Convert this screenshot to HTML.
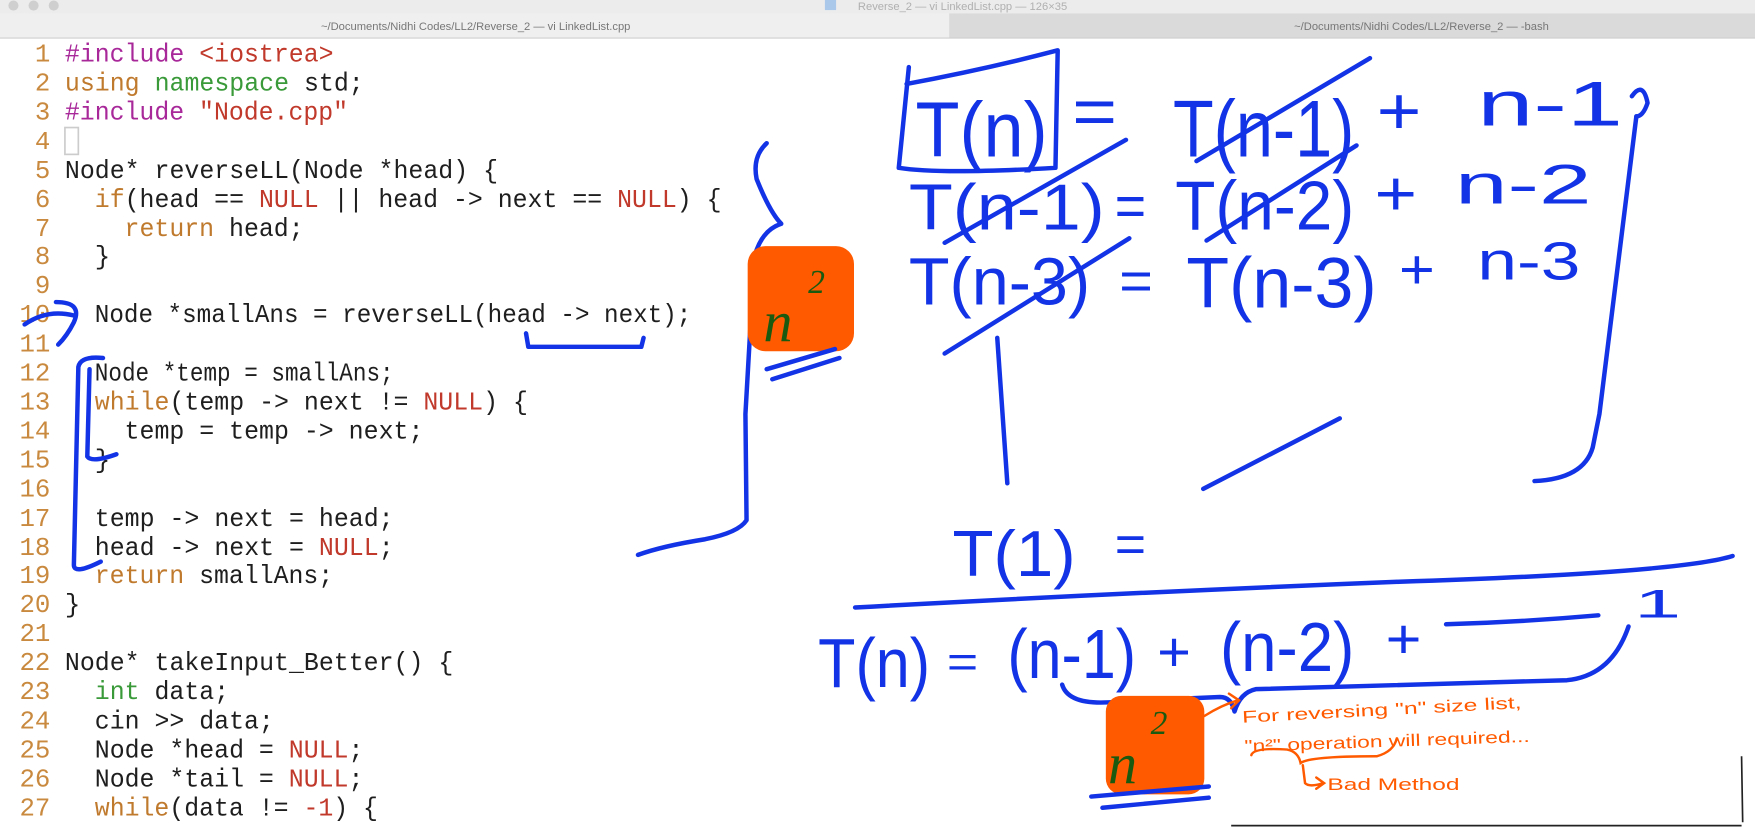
<!DOCTYPE html>
<html><head><meta charset="utf-8"><style>
html,body{margin:0;padding:0;background:#fff;overflow:hidden}
svg{display:block}
text{white-space:pre}
.c{font-family:"Liberation Mono",monospace;font-size:23px;fill:#1e1e1e}
.ln{font-family:"Liberation Mono",monospace;font-size:23px;fill:#c98a3f}
.pp{fill:#a8289a}.kw{fill:#c07a2e}.gr{fill:#3a9a3a}.rd{fill:#c0392b}
.h{font-family:"Liberation Sans",sans-serif;fill:#1234e6}
.b{fill:none;stroke:#1234e6;stroke-width:4;stroke-linecap:round;stroke-linejoin:round}
.o{font-family:"Liberation Sans",sans-serif;fill:#ff5a00;font-size:15px}
.ob{fill:none;stroke:#ff5a00;stroke-width:2.2;stroke-linecap:round}
</style></head><body>
<svg width="1755" height="829" viewBox="0 0 1568 741" preserveAspectRatio="none" xmlns="http://www.w3.org/2000/svg">
<rect x="0" y="0" width="1568" height="12" fill="#ececec"/>
<circle cx="12" cy="5" r="4.5" fill="#cfcfcf"/><circle cx="30" cy="5" r="4.5" fill="#cfcfcf"/><circle cx="48" cy="5" r="4.5" fill="#cfcfcf"/>
<rect x="737" y="0" width="10" height="9" fill="#a9c8ea"/>
<text x="860" y="9" font-family="Liberation Sans,sans-serif" font-size="10" fill="#b0b0b0" text-anchor="middle">Reverse_2 — vi LinkedList.cpp — 126×35</text>
<rect x="0" y="12" width="848" height="22" fill="#efefef"/>
<rect x="848" y="12" width="720" height="22" fill="#dadada"/>
<line x1="0" y1="34" x2="1568" y2="34" stroke="#cfcfcf"/>
<text x="425" y="27" font-family="Liberation Sans,sans-serif" font-size="10" fill="#777" text-anchor="middle">~/Documents/Nidhi Codes/LL2/Reverse_2 — vi LinkedList.cpp</text>
<text x="1270" y="27" font-family="Liberation Sans,sans-serif" font-size="10" fill="#777" text-anchor="middle">~/Documents/Nidhi Codes/LL2/Reverse_2 — -bash</text>

<g class="ln" text-anchor="end">
<text x="45" y="55">1</text><text x="45" y="81">2</text><text x="45" y="107">3</text><text x="45" y="133">4</text><text x="45" y="159">5</text><text x="45" y="185">6</text><text x="45" y="211">7</text><text x="45" y="236">8</text><text x="45" y="262">9</text><text x="45" y="288">10</text><text x="45" y="314">11</text><text x="45" y="340">12</text><text x="45" y="366">13</text><text x="45" y="392">14</text><text x="45" y="418">15</text><text x="45" y="444">16</text><text x="45" y="470">17</text><text x="45" y="496">18</text><text x="45" y="521">19</text><text x="45" y="547">20</text><text x="45" y="573">21</text><text x="45" y="599">22</text><text x="45" y="625">23</text><text x="45" y="651">24</text><text x="45" y="677">25</text><text x="45" y="703">26</text><text x="45" y="729">27</text>
</g>
<g class="c">
<text x="58" y="55" textLength="240" lengthAdjust="spacingAndGlyphs"><tspan class="pp">#include</tspan> <tspan class="rd">&lt;iostrea&gt;</tspan></text>
<text x="58" y="81" textLength="267" lengthAdjust="spacingAndGlyphs"><tspan class="kw">using</tspan> <tspan class="gr">namespace</tspan> std;</text>
<text x="58" y="107" textLength="253" lengthAdjust="spacingAndGlyphs"><tspan class="pp">#include</tspan> <tspan class="rd">"Node.cpp"</tspan></text>
<rect x="58" y="114" width="12" height="24" fill="none" stroke="#ccc" stroke-width="1.5"/>
<text x="58" y="159" textLength="387" lengthAdjust="spacingAndGlyphs">Node* reverseLL(Node *head) {</text>
<text x="84.7" y="185" textLength="560" lengthAdjust="spacingAndGlyphs"><tspan class="kw">if</tspan>(head == <tspan class="rd">NULL</tspan> || head -&gt; next == <tspan class="rd">NULL</tspan>) {</text>
<text x="111.3" y="211" textLength="160" lengthAdjust="spacingAndGlyphs"><tspan class="kw">return</tspan> head;</text>
<text x="84.7" y="236">}</text>
<text x="84.7" y="288" textLength="533" lengthAdjust="spacingAndGlyphs">Node *smallAns = reverseLL(head -&gt; next);</text>
<text x="84.7" y="340" textLength="267" lengthAdjust="spacingAndGlyphs">Node *temp = smallAns;</text>
<text x="84.7" y="366" textLength="387" lengthAdjust="spacingAndGlyphs"><tspan class="kw">while</tspan>(temp -&gt; next != <tspan class="rd">NULL</tspan>) {</text>
<text x="111.3" y="392" textLength="267" lengthAdjust="spacingAndGlyphs">temp = temp -&gt; next;</text>
<text x="84.7" y="418">}</text>
<text x="84.7" y="470" textLength="267" lengthAdjust="spacingAndGlyphs">temp -&gt; next = head;</text>
<text x="84.7" y="496" textLength="267" lengthAdjust="spacingAndGlyphs">head -&gt; next = <tspan class="rd">NULL</tspan>;</text>
<text x="84.7" y="521" textLength="213" lengthAdjust="spacingAndGlyphs"><tspan class="kw">return</tspan> smallAns;</text>
<text x="58" y="547">}</text>
<text x="58" y="599" textLength="347" lengthAdjust="spacingAndGlyphs">Node* takeInput_Better() {</text>
<text x="84.7" y="625" textLength="120" lengthAdjust="spacingAndGlyphs"><tspan class="gr">int</tspan> data;</text>
<text x="84.7" y="651" textLength="160" lengthAdjust="spacingAndGlyphs">cin &gt;&gt; data;</text>
<text x="84.7" y="677" textLength="240" lengthAdjust="spacingAndGlyphs">Node *head = <tspan class="rd">NULL</tspan>;</text>
<text x="84.7" y="703" textLength="240" lengthAdjust="spacingAndGlyphs">Node *tail = <tspan class="rd">NULL</tspan>;</text>
<text x="84.7" y="729" textLength="253" lengthAdjust="spacingAndGlyphs"><tspan class="kw">while</tspan>(data != <tspan class="rd">-1</tspan>) {</text>
</g>

<!-- code annotations -->
<path class="b" d="M22 290 Q42 276 66 282 M50 270 Q74 270 66 288 Q60 300 52 308"/>
<path class="b" d="M92 320 Q72 318 70 328 L66 505 Q66 514 90 502"/>
<path class="b" d="M80 330 L78 408 Q82 414 104 406"/>
<path class="b" d="M470 298 L472 310 L573 310 L575 302"/>
<path class="b" d="M685 128 Q672 140 676 160 Q688 190 698 200 Q680 206 674 230 L666 370 L667 465 Q660 476 630 482 Q592 488 570 496"/>
<rect x="668" y="220" width="95" height="94" rx="16" fill="#ff5a00"/>
<text x="682" y="305" font-family="Liberation Serif,serif" font-style="italic" font-size="52" fill="#1a5a10">n</text>
<text x="722" y="262" font-family="Liberation Serif,serif" font-style="italic" font-size="30" fill="#1a5a10">2</text>
<path class="b" d="M685 330 L746 312 M690 339 L750 320" stroke-width="3"/>

<!-- right formulas -->
<path class="b" d="M812 60 L803 150 Q840 156 943 150 L945 45 Q880 62 810 75"/>
<text class="h" x="818" y="140" font-size="70" textLength="118" lengthAdjust="spacingAndGlyphs">T(n)</text>
<text class="h" x="958" y="120" font-size="60" textLength="40" lengthAdjust="spacingAndGlyphs">=</text>
<text class="h" x="1048" y="140" font-size="72" textLength="162" lengthAdjust="spacingAndGlyphs">T(n-1)</text>
<text class="h" x="1230" y="120" font-size="60" textLength="40" lengthAdjust="spacingAndGlyphs">+</text>
<text class="h" x="1320" y="112" font-size="56" textLength="130" lengthAdjust="spacingAndGlyphs">n-1</text>
<path class="b" d="M1458 86 Q1468 72 1472 92 Q1468 104 1462 104"/>
<path class="b" d="M1069 144 L1224 52"/>
<path class="b" d="M1462 104 L1429 370 L1423 400 Q1415 428 1371 430"/>

<text class="h" x="812" y="205" font-size="58" textLength="175" lengthAdjust="spacingAndGlyphs">T(n-1)</text>
<text class="h" x="996" y="202" font-size="52" textLength="28" lengthAdjust="spacingAndGlyphs">=</text>
<text class="h" x="1050" y="205" font-size="62" textLength="160" lengthAdjust="spacingAndGlyphs">T(n-2)</text>
<text class="h" x="1228" y="192" font-size="56" textLength="38" lengthAdjust="spacingAndGlyphs">+</text>
<text class="h" x="1300" y="182" font-size="50" textLength="122" lengthAdjust="spacingAndGlyphs">n-2</text>
<path class="b" d="M844 217 L1006 125 M1078 215 L1212 130"/>

<text class="h" x="812" y="272" font-size="60" textLength="162" lengthAdjust="spacingAndGlyphs">T(n-3)</text>
<text class="h" x="1000" y="268" font-size="50" textLength="30" lengthAdjust="spacingAndGlyphs">=</text>
<text class="h" x="1060" y="275" font-size="64" textLength="170" lengthAdjust="spacingAndGlyphs">T(n-3)</text>
<text class="h" x="1250" y="258" font-size="50" textLength="32" lengthAdjust="spacingAndGlyphs">+</text>
<text class="h" x="1320" y="250" font-size="48" textLength="92" lengthAdjust="spacingAndGlyphs">n-3</text>
<path class="b" d="M844 316 L1009 213"/>

<path class="b" d="M891 302 L900 432"/>
<path class="b" d="M1075 437 L1197 374"/>

<text class="h" x="851" y="515" font-size="58" textLength="110" lengthAdjust="spacingAndGlyphs">T(1)</text>
<text class="h" x="996" y="502" font-size="46" textLength="28" lengthAdjust="spacingAndGlyphs">=</text>
<path class="b" d="M764 543 Q1000 530 1250 520 Q1500 512 1548 497"/>

<text class="h" x="731" y="614" font-size="62" textLength="100" lengthAdjust="spacingAndGlyphs">T(n)</text>
<text class="h" x="846" y="605" font-size="40" textLength="28" lengthAdjust="spacingAndGlyphs">=</text>
<text class="h" x="900" y="606" font-size="62" textLength="115" lengthAdjust="spacingAndGlyphs">(n-1)</text>
<text class="h" x="1034" y="600" font-size="50" textLength="30" lengthAdjust="spacingAndGlyphs">+</text>
<text class="h" x="1090" y="600" font-size="62" textLength="120" lengthAdjust="spacingAndGlyphs">(n-2)</text>
<text class="h" x="1238" y="588" font-size="50" textLength="32" lengthAdjust="spacingAndGlyphs">+</text>
<path class="b" d="M1292 558 Q1360 556 1428 550"/>
<text class="h" x="1460" y="552" font-size="36" textLength="42" lengthAdjust="spacingAndGlyphs">1</text>
<path class="b" d="M949 612 Q955 632 1000 627 L1090 623 Q1100 623 1103 636 Q1108 619 1122 616 L1400 608 Q1440 604 1455 560"/>

<rect x="988" y="622" width="88" height="88" rx="14" fill="#ff5a00"/>
<text x="990" y="700" font-family="Liberation Serif,serif" font-style="italic" font-size="52" fill="#1a5a10">n</text>
<text x="1028" y="656" font-family="Liberation Serif,serif" font-style="italic" font-size="30" fill="#1a5a10">2</text>
<path class="b" d="M975 712 L1080 703 M985 722 L1080 713" stroke-width="3"/>

<path class="ob" d="M1076 640 Q1092 630 1106 626 M1098 620 L1107 626 L1100 633"/>
<text class="o" x="1110" y="646" textLength="250" lengthAdjust="spacingAndGlyphs" transform="rotate(-3 1110 646)">For reversing "n" size list,</text>
<text class="o" x="1112" y="672" textLength="255" lengthAdjust="spacingAndGlyphs" transform="rotate(-2 1112 672)">"n²" operation will required...</text>
<path class="ob" d="M1118 675 Q1120 668 1150 670 Q1160 672 1162 682 Q1170 676 1230 676 Q1245 672 1248 660"/>
<path class="ob" d="M1164 684 L1166 700 Q1170 704 1182 700 M1176 695 L1183 700 L1176 705"/>
<text class="o" x="1186" y="706" font-size="18" textLength="118" lengthAdjust="spacingAndGlyphs">Bad Method</text>

<path d="M1556 676 L1557 735 M1100 738 L1556 738" stroke="#222" stroke-width="1.5" fill="none"/>
</svg>
</body></html>
